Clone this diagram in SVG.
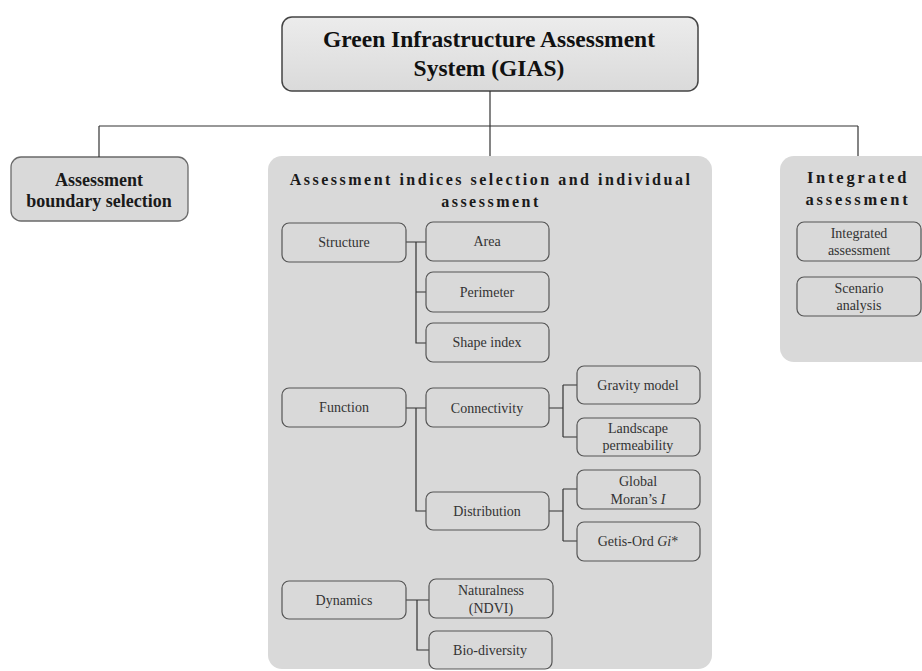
<svg xmlns="http://www.w3.org/2000/svg" width="922" height="671" viewBox="0 0 922 671">
<defs>
<linearGradient id="gt" x1="0" y1="0" x2="0" y2="1">
<stop offset="0" stop-color="#ececec"/>
<stop offset="1" stop-color="#dadada"/>
</linearGradient>
</defs>
<style>
.bg{fill:#ffffff}
.top{fill:url(#gt);stroke:#444;stroke-width:1.5}
.panel{fill:#d9d9d9;stroke:none}
.lbox{fill:#d9d9d9;stroke:#6a6a6a;stroke-width:1.3}
.node{fill:#d9d9d9;stroke:#555;stroke-width:1.2}
.conn line,.conn path{stroke:#333;stroke-width:1.2;fill:none}
.t1{font-family:"Liberation Serif",serif;font-weight:bold;font-size:23.5px;fill:#111;text-anchor:middle}
.t2{font-family:"Liberation Serif",serif;font-weight:bold;font-size:18px;fill:#1a1a1a;text-anchor:middle}
.t3{font-family:"Liberation Serif",serif;font-weight:bold;font-size:16px;fill:#1a1a1a;text-anchor:middle;letter-spacing:2.5px}
.t3r{font-family:"Liberation Serif",serif;font-weight:bold;font-size:16.5px;fill:#1a1a1a;text-anchor:middle;letter-spacing:2.8px}
.t4{font-family:"Liberation Serif",serif;font-size:14px;fill:#333;text-anchor:middle}
</style>
<rect class="bg" x="0" y="0" width="922" height="671"/>
<g id="gias">
<rect class="top" x="282" y="17" width="416" height="74" rx="10"/>
<text class="t1" x="489" y="47">Green Infrastructure Assessment</text>
<text class="t1" x="489" y="76">System (GIAS)</text>
</g>
<g id="boundary">
<rect class="lbox" x="11" y="157" width="177" height="64" rx="10"/>
<text class="t2" x="99" y="186">Assessment</text>
<text class="t2" x="99" y="207">boundary selection</text>
</g>
<g id="indices">
<rect class="panel" x="268" y="156" width="444" height="513" rx="14"/>
<text class="t3" x="491" y="185">Assessment indices selection and individual</text>
<text class="t3" x="491" y="207">assessment</text>
</g>
<g id="integrated">
<rect class="panel" x="780" y="156" width="160" height="206" rx="14"/>
<text class="t3r" x="858" y="183">Integrated</text>
<text class="t3r" x="858" y="205">assessment</text>
</g>
<g id="connectors" class="conn">
<line x1="490" y1="91" x2="490" y2="156"/>
<line x1="99" y1="126" x2="858" y2="126"/>
<line x1="99" y1="126" x2="99" y2="157"/>
<line x1="858" y1="126" x2="858" y2="156"/>
<path d="M406 242 H426 M416 242 V343 H426 M416 292 H426"/>
<path d="M406 408 H426 M416 408 V511 H426"/>
<path d="M549 408 H563 M563 385 V437 M563 385 H577 M563 437 H577"/>
<path d="M549 511 H563 M563 489 V541 M563 489 H577 M563 541 H577"/>
<path d="M406 600 H429 M417 600 V650 H429"/>
</g>
<g id="structure"><rect class="node" x="282" y="223" width="124" height="39" rx="7"/><text class="t4" x="344" y="247">Structure</text></g>
<g id="area"><rect class="node" x="426" y="222" width="123" height="39" rx="7"/><text class="t4" x="487" y="246">Area</text></g>
<g id="perimeter"><rect class="node" x="426" y="272" width="123" height="40" rx="7"/><text class="t4" x="487" y="297">Perimeter</text></g>
<g id="shape"><rect class="node" x="426" y="323" width="123" height="39" rx="7"/><text class="t4" x="487" y="347">Shape index</text></g>
<g id="function"><rect class="node" x="282" y="388" width="124" height="39" rx="7"/><text class="t4" x="344" y="412">Function</text></g>
<g id="connectivity"><rect class="node" x="426" y="388" width="123" height="39" rx="7"/><text class="t4" x="487" y="413">Connectivity</text></g>
<g id="gravity"><rect class="node" x="577" y="366" width="123" height="38" rx="7"/><text class="t4" x="638" y="390">Gravity model</text></g>
<g id="landscape"><rect class="node" x="577" y="418" width="123" height="38" rx="7"/><text class="t4" x="638" y="433">Landscape</text><text class="t4" x="638" y="450">permeability</text></g>
<g id="distribution"><rect class="node" x="426" y="492" width="123" height="38" rx="7"/><text class="t4" x="487" y="516">Distribution</text></g>
<g id="moran"><rect class="node" x="577" y="470" width="123" height="39" rx="7"/><text class="t4" x="638" y="486">Global</text><text class="t4" x="638" y="504">Moran’s <tspan font-style="italic">I</tspan></text></g>
<g id="getis"><rect class="node" x="577" y="522" width="123" height="39" rx="7"/><text class="t4" x="638" y="546">Getis-Ord <tspan font-style="italic">Gi</tspan>*</text></g>
<g id="dynamics"><rect class="node" x="282" y="581" width="124" height="38" rx="7"/><text class="t4" x="344" y="605">Dynamics</text></g>
<g id="naturalness"><rect class="node" x="429" y="579" width="124" height="39" rx="7"/><text class="t4" x="491" y="595">Naturalness</text><text class="t4" x="491" y="613">(NDVI)</text></g>
<g id="biodiversity"><rect class="node" x="429" y="631" width="123" height="38" rx="7"/><text class="t4" x="490" y="655">Bio-diversity</text></g>
<g id="ia"><rect class="node" x="797" y="222" width="124" height="39" rx="7"/><text class="t4" x="859" y="238">Integrated</text><text class="t4" x="859" y="255">assessment</text></g>
<g id="scenario"><rect class="node" x="797" y="277" width="124" height="39" rx="7"/><text class="t4" x="859" y="293">Scenario</text><text class="t4" x="859" y="310">analysis</text></g>
</svg>
